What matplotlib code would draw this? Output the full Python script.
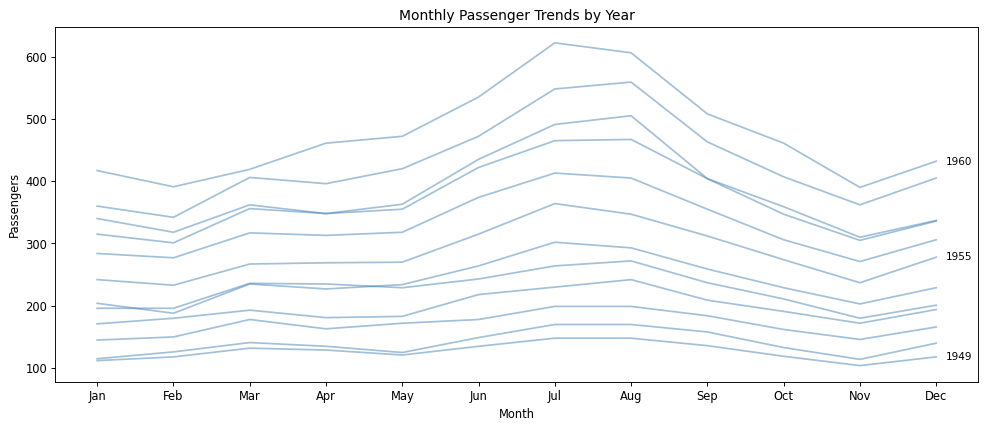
import matplotlib
matplotlib.use("Agg")
import matplotlib.pyplot as plt

months = ["Jan", "Feb", "Mar", "Apr", "May", "Jun", "Jul", "Aug", "Sep", "Oct", "Nov", "Dec"]
years = [1949, 1950, 1951, 1952, 1953, 1954, 1955, 1956, 1957, 1958, 1959, 1960]
p1949 = [112, 118, 132, 129, 121, 135, 148, 148, 136, 119, 104, 118]
p1950 = [115, 126, 141, 135, 125, 149, 170, 170, 158, 133, 114, 140]
p1951 = [145, 150, 178, 163, 172, 178, 199, 199, 184, 162, 146, 166]
p1952 = [171, 180, 193, 181, 183, 218, 230, 242, 209, 191, 172, 194]
p1953 = [196, 196, 236, 235, 229, 243, 264, 272, 237, 211, 180, 201]
p1954 = [204, 188, 235, 227, 234, 264, 302, 293, 259, 229, 203, 229]
p1955 = [242, 233, 267, 269, 270, 315, 364, 347, 312, 274, 237, 278]
p1956 = [284, 277, 317, 313, 318, 374, 413, 405, 355, 306, 271, 306]
p1957 = [315, 301, 356, 348, 355, 422, 465, 467, 404, 347, 305, 336]
p1958 = [340, 318, 362, 348, 363, 435, 491, 505, 404, 359, 310, 337]
p1959 = [360, 342, 406, 396, 420, 472, 548, 559, 463, 407, 362, 405]
p1960 = [417, 391, 419, 461, 472, 535, 622, 606, 508, 461, 390, 432]
series = [p1949, p1950, p1951, p1952, p1953, p1954, p1955, p1956, p1957, p1958, p1959, p1960]
labeled_years = [1949, 1955, 1960]

fig, ax = plt.subplots(figsize=(11.88, 5.16), dpi=83)
x = list(range(len(months)))
for yr, vals in zip(years, series):
    ax.plot(x, vals, color="steelblue", alpha=0.5, linewidth=1.5)
    if yr in labeled_years:
        ax.text(x[-1] + 0.12, vals[-1], str(yr), fontsize=9, va="center", ha="left")
ax.set_xticks(x)
ax.set_xticklabels(months)
ax.set_xlabel("Month")
ax.set_ylabel("Passengers")
ax.set_title("Monthly Passenger Trends by Year")
fig.subplots_adjust(left=0.056, right=0.992, top=0.937, bottom=0.108)
fig.savefig("out.png", dpi=83)
